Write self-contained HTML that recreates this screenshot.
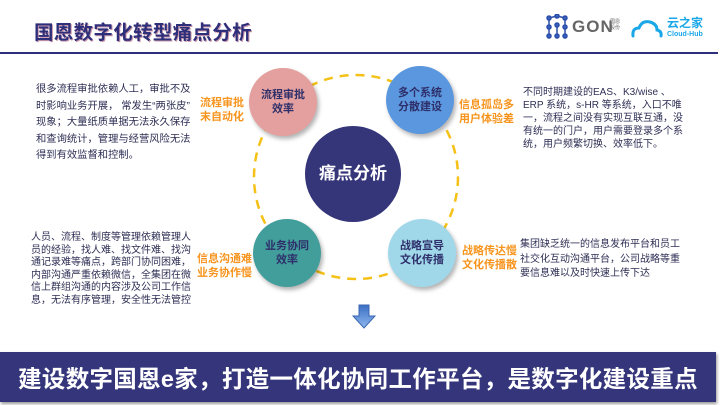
<!DOCTYPE html>
<html><head><meta charset="utf-8"><style>
*{margin:0;padding:0;box-sizing:border-box}
body{width:720px;height:405px;background:#fff;position:relative;overflow:hidden;font-family:"Liberation Sans","Noto Sans CJK SC",sans-serif}
.abs{position:absolute;white-space:nowrap}
.title{left:34px;top:16px;font-size:19.5px;font-weight:bold;color:#2e2f7a;letter-spacing:0.3px;text-shadow:1px 1px 0 #c9a;}
.line{left:0;top:52px;width:718px;height:2px;background:#2e2f7a}
.txt{color:#2e2f55;font-size:10.5px}
.or{color:#f7941d;font-weight:bold;font-size:11px;line-height:14px}
.c{position:absolute;border-radius:50%;display:flex;align-items:center;justify-content:center;text-align:center;color:#2e2f6a;font-size:11px;font-weight:bold;line-height:14px;box-shadow:2px 3px 4px rgba(0,0,0,0.3)}
</style></head><body>
<div class="abs title">国恩数字化转型痛点分析</div>
<div class="abs line"></div>
<div class="abs" style="left:545px;top:14px;width:58px;height:24px;">
<svg width="24" height="26" viewBox="0 0 24 26"><g stroke="#2b4fa8" stroke-width="1.5" fill="#3a5fc0"><line x1="4" y1="4" x2="4" y2="22"/><line x1="20" y1="4" x2="20" y2="22"/><line x1="4" y1="4" x2="12" y2="2"/><line x1="12" y1="2" x2="20" y2="4"/><line x1="12" y1="10" x2="12" y2="22"/><circle cx="4" cy="4" r="2"/><circle cx="12" cy="2" r="2"/><circle cx="20" cy="4" r="2"/><circle cx="4" cy="13" r="2"/><circle cx="12" cy="11" r="2"/><circle cx="20" cy="13" r="2"/><circle cx="4" cy="22" r="2"/><circle cx="12" cy="22" r="2"/><circle cx="20" cy="22" r="2"/></g></svg>
</div>
<div class="abs" style="left:572px;top:17px;font-size:17px;font-weight:bold;color:#666;letter-spacing:1px">GON</div>
<div class="abs" style="left:610px;top:19px;font-size:5px;color:#666;line-height:6px">国恩<br>股份</div>
<svg class="abs" style="left:630px;top:18px" width="34" height="22" viewBox="0 0 34 22"><path d="M3 18 Q2 10 9 10 Q12 2 20 4 Q27 6 27 12 Q32 13 31 18" fill="none" stroke="#1aa7e8" stroke-width="3" stroke-linecap="round"/></svg>
<div class="abs" style="left:667px;top:17px;font-size:12px;color:#1aa7e8;font-weight:bold;line-height:13px">云之家</div>
<div class="abs" style="left:667px;top:31px;font-size:7px;color:#1aa7e8;font-weight:bold">Cloud-Hub</div>

<svg class="abs" style="left:0;top:0" width="720" height="405"><ellipse cx="356" cy="177" rx="102" ry="102" fill="none" stroke="#f5c116" stroke-width="2.5" stroke-dasharray="9 7"/></svg>

<div class="c" style="left:305px;top:126px;width:96px;height:96px;background:#35357a;color:#fff;font-size:17px;box-shadow:none">痛点分析</div>
<div class="c" style="left:249px;top:68px;width:68px;height:68px;background:#e4a09e">流程审批<br>效率</div>
<div class="c" style="left:386px;top:66px;width:68px;height:68px;background:#5b97df">多个系统<br>分散建设</div>
<div class="c" style="left:253px;top:219px;width:68px;height:68px;background:#429e9b">业务协同<br>效率</div>
<div class="c" style="left:388px;top:219px;width:68px;height:68px;background:#a0d8ea">战略宣导<br>文化传播</div>

<div class="abs txt" style="left:36px;top:82px;line-height:16.5px;font-size:10.3px">很多流程审批依赖人工，审批不及<br>时影响业务开展， 常发生“两张皮”<br>现象；大量纸质单据无法永久保存<br>和查询统计，管理与经营风险无法<br>得到有效监督和控制。</div>
<div class="abs or" style="left:200px;top:96px">流程审批<br>末自动化</div>

<div class="abs or" style="left:459px;top:98px">信息孤岛多<br>用户体验差</div>
<div class="abs txt" style="left:523px;top:86px;line-height:13px;font-size:10px">不同时期建设的EAS、K3/wise 、<br>ERP 系统，s-HR 等系统，入口不唯<br>一，流程之间没有实现互联互通，没<br>有统一的门户，用户需要登录多个系<br>统，用户频繁切换、效率低下。</div>

<div class="abs txt" style="left:31px;top:232px;line-height:12.5px;font-size:10px">人员、流程、制度等管理依赖管理人<br>员的经验，找人难、找文件难、找沟<br>通记录难等痛点，跨部门协同困难，<br>内部沟通严重依赖微信，全集团在微<br>信上群组沟通的内容涉及公司工作信<br>息，无法有序管理，安全性无法管控</div>
<div class="abs or" style="left:197px;top:252px">信息沟通难<br>业务协作慢</div>

<div class="abs or" style="left:462px;top:244px">战略传达慢<br>文化传播散</div>
<div class="abs txt" style="left:520px;top:238px;line-height:14.5px;font-size:10px">集团缺乏统一的信息发布平台和员工<br>社交化互动沟通平台，公司战略等重<br>要信息难以及时快速上传下达</div>

<svg class="abs" style="left:352px;top:304px" width="24" height="26" viewBox="0 0 24 26"><defs><linearGradient id="g" x1="0" y1="0" x2="0" y2="1"><stop offset="0" stop-color="#3b6fc4"/><stop offset="1" stop-color="#8fb8ee"/></linearGradient></defs><path d="M7 1 H17 V12 H23 L12 24 L1 12 H7 Z" fill="url(#g)" stroke="#3a66b0" stroke-width="1"/></svg>

<div class="abs" style="left:0;top:352px;width:716px;height:50px;background:#34357a;box-shadow:1px 2px 3px rgba(0,0,0,0.4);display:flex;align-items:center;justify-content:center;color:#fff;font-size:23.5px;font-weight:bold;letter-spacing:0.3px">建设数字国恩e家，打造一体化协同工作平台，是数字化建设重点</div>
</body></html>
